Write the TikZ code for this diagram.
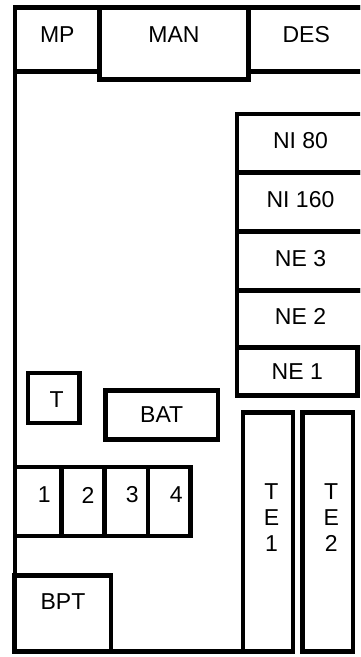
\documentclass[tikz,border=0pt]{standalone}
\usepackage{fontspec}
\setmainfont{Liberation Sans}
\usetikzlibrary{positioning}

\begin{document}
\begin{tikzpicture}[
    x=1pt, y=-1pt,
    box/.style={draw, line width=4.6pt, fill=white, inner sep=0pt, outer sep=0pt,
                anchor=north west, font=\fontsize{23}{26}\selectfont},
    dims/.style 2 args={minimum width=#1pt, minimum height=#2pt},
    every label/.style={font=\fontsize{23}{26}\selectfont, align=center, inner sep=0pt},
    wall/.style={line width=4.6pt},
    node distance=0pt
]
    \useasboundingbox (0,0) rectangle (360,657);
    \clip (0,0) rectangle (360,657);

    % top row
    \node[box, dims={84.5}{64}, label={[yshift=5pt]center:MP}] (mp) at (15,7.5) {};
    \node[box, dims={149}{72}, label={[yshift=9pt]center:MAN}] (man) at (99.5,7.5) {};
    \node[box, dims={115.5}{64}, label={[yshift=5pt]center:DES}] (des) at (248.5,7.5) {};

    % right stack
    \node[box, dims={127}{58.5}, label={[yshift=3pt]center:NI 80}] (ni80) at (237,114) {};
    \node[box, dims={127}{59}, below=of ni80, label={[yshift=2pt]center:NI 160}] (ni160) {};
    \node[box, dims={127}{58.8}, below=of ni160, label={[yshift=2pt]center:NE 3}] (ne3) {};
    \node[box, dims={127}{57.2}, below=of ne3, label={[yshift=2pt]center:NE 2}] (ne2) {};
    \node[box, dims={120.5}{48}, at=(ne2.south west)] (ne1) {NE 1};

    % left side
    \node[box, dims={51.5}{50}, label={[xshift=3pt, yshift=-1.5pt]center:T}] (t) at (28,373) {};
    \node[box, dims={112.5}{49}] (bat) at (105.5,390.5) {BAT};
    \node[box, dims={46.5}{69}, label={[xshift=6pt, yshift=6.5pt]center:1}] (n1) at (15,467) {};
    \node[box, dims={43.2}{69}, right=of n1, label={[xshift=5pt, yshift=6.5pt]center:2}] (n2) {};
    \node[box, dims={43.3}{69}, right=of n2, label={[xshift=6pt, yshift=6.5pt]center:3}] (n3) {};
    \node[box, dims={42.5}{69}, right=of n3, label={[xshift=7pt, yshift=6.5pt]center:4}] (n4) {};
    \node[box, dims={97}{76}, label={[xshift=0.5pt, yshift=12pt]center:BPT}] (bpt) at (14,575.5) {};

    % bottom right
    \node[box, dims={50}{239}, label={[xshift=3.5pt, yshift=14pt]center:{T\\E\\1}}] (te1) at (243,412.5) {};
    \node[box, dims={50.5}{239}, right=9.5pt of te1, label={[xshift=3.5pt, yshift=14pt]center:{T\\E\\2}}] (te2) {};

    % outer wall
    \draw[wall] (364,7.5) -- (15,7.5) -- (15,651.5) -- (te1.south west);
\end{tikzpicture}
\end{document}
